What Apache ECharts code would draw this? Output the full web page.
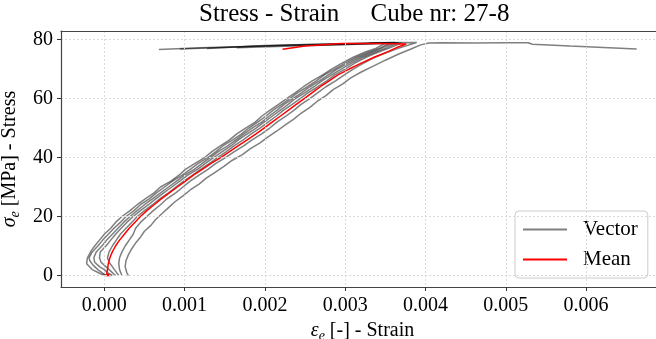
<!DOCTYPE html>
<html>
<head>
<meta charset="utf-8">
<script src="https://cdn.jsdelivr.net/npm/echarts@6/dist/echarts.min.js"></script>
<style>
  html, body { margin: 0; padding: 0; background: #fff; }
  #chart { width: 656px; height: 339px; }
</style>
</head>
<body>
<div id="chart"></div>
<script>
// Strain / stress pairs [strain (-), stress (MPa)] for each measured vector of cube 27-8
const vector1 = [[0.00005,0],[-0.00004,0.5],[-0.00015,2],[-0.00022,4],[-0.00021,6],[-0.00019,7],[-0.00016,8.5],[-0.00012,10],[-0.00006,12],[0.00000,14],[0.00008,16],[0.00014,18],[0.00022,20],[0.00032,22],[0.00041,24],[0.00051,26],[0.00062,28],[0.00070,30],[0.00083,32],[0.00093,34],[0.00101,36],[0.00113,38],[0.00125,40],[0.00134,42],[0.00145,44],[0.00156,46],[0.00165,48],[0.00176,50],[0.00188,52],[0.00196,54],[0.00206,56],[0.00217,58],[0.00227,60],[0.00238,62],[0.00248,64],[0.00259,66],[0.00272,68],[0.00283,70],[0.00296,72],[0.00310,74],[0.00325,75.8],[0.00338,77],[0.00350,78.8],[0.00300,78.5],[0.00200,77.8],[0.00120,77.2],[0.00068,76.6]];
const vector2 = [[0.00002,0],[-0.00003,1],[-0.00008,2],[-0.00014,3.5],[-0.00018,5],[-0.00019,6],[-0.00015,8],[-0.00008,10],[-0.00002,12],[0.00005,14],[0.00012,16],[0.00020,18],[0.00027,20],[0.00037,22],[0.00045,24],[0.00056,26],[0.00065,28],[0.00075,30],[0.00085,32],[0.00097,34],[0.00107,36],[0.00117,38],[0.00129,40],[0.00139,42],[0.00148,44],[0.00160,46],[0.00171,48],[0.00180,50],[0.00191,52],[0.00201,54],[0.00210,56],[0.00221,58],[0.00231,60],[0.00241,62],[0.00253,64],[0.00264,66],[0.00274,68],[0.00287,70],[0.00300,72],[0.00314,74],[0.00328,75.6],[0.00342,77],[0.00356,78.8],[0.00240,78.2],[0.00094,76.8]];
const vector3 = [[0.00010,0],[0.00004,1],[0.00000,2],[-0.00006,3],[-0.00012,4.5],[-0.00013,6],[-0.00010,8],[-0.00003,10],[0.00003,12],[0.00010,14],[0.00017,16],[0.00024,18],[0.00032,20],[0.00041,22],[0.00050,24],[0.00060,26],[0.00070,28],[0.00080,30],[0.00090,32],[0.00100,34],[0.00112,36],[0.00122,38],[0.00132,40],[0.00142,42],[0.00154,44],[0.00164,46],[0.00174,48],[0.00184,50],[0.00196,52],[0.00205,54],[0.00215,56],[0.00224,58],[0.00235,60],[0.00246,62],[0.00256,64],[0.00268,66],[0.00279,68],[0.00290,70],[0.00304,72],[0.00318,74],[0.00332,75.6],[0.00345,77],[0.00362,79],[0.00200,78],[0.00128,77]];
const vector4 = [[0.00014,0],[0.00008,1.5],[0.00002,3],[-0.00004,4.5],[-0.00006,6],[-0.00005,8],[0.00002,10],[0.00008,12],[0.00014,14],[0.00021,16],[0.00028,18],[0.00036,20],[0.00045,22],[0.00055,24],[0.00064,26],[0.00074,28],[0.00084,30],[0.00094,32],[0.00104,34],[0.00116,36],[0.00126,38],[0.00136,40],[0.00147,42],[0.00158,44],[0.00167,46],[0.00178,48],[0.00189,50],[0.00199,52],[0.00209,54],[0.00219,56],[0.00229,58],[0.00238,60],[0.00250,62],[0.00261,64],[0.00271,66],[0.00283,68],[0.00295,70],[0.00308,72],[0.00322,74],[0.00336,75.6],[0.00350,77],[0.00366,78.9],[0.00165,77.2]];
const vector5 = [[0.00018,0],[0.00014,1.5],[0.00010,3],[0.00006,4.5],[0.00004,6],[0.00006,8],[0.00010,10],[0.00015,12],[0.00020,14],[0.00027,16],[0.00034,18],[0.00041,20],[0.00050,22],[0.00060,24],[0.00069,26],[0.00080,28],[0.00089,30],[0.00099,32],[0.00110,34],[0.00120,36],[0.00131,38],[0.00141,40],[0.00152,42],[0.00162,44],[0.00173,46],[0.00183,48],[0.00194,50],[0.00204,52],[0.00214,54],[0.00223,56],[0.00234,58],[0.00244,60],[0.00254,62],[0.00266,64],[0.00277,66],[0.00287,68],[0.00300,70],[0.00312,72],[0.00326,74],[0.00340,75.6],[0.00354,77],[0.00370,78.8],[0.00260,78.0]];
const vector6 = [[0.00022,0],[0.00019,2],[0.00018,4],[0.00019,6],[0.00022,8],[0.00026,10],[0.00031,12],[0.00036,14],[0.00039,16],[0.00045,18],[0.00053,20],[0.00061,22],[0.00070,24],[0.00078,26],[0.00089,28],[0.00098,30],[0.00107,32],[0.00118,34],[0.00129,36],[0.00139,38],[0.00151,40],[0.00162,42],[0.00174,44],[0.00184,46],[0.00196,48],[0.00206,50],[0.00215,52],[0.00226,54],[0.00236,56],[0.00245,58],[0.00256,60],[0.00266,62],[0.00276,64],[0.00288,66],[0.00299,68],[0.00310,70],[0.00323,72],[0.00337,74],[0.00352,75.6],[0.00366,77],[0.00389,79],[0.00330,78.9]];
const vector7 = [[0.00030,0],[0.00028,1],[0.00026,3],[0.00027,5],[0.00030,7],[0.00034,9],[0.00039,11],[0.00045,13],[0.00050,15],[0.00058,17],[0.00064,19],[0.00072,21],[0.00080,23],[0.00088,25],[0.00098,27],[0.00107,29],[0.00118,31],[0.00127,33],[0.00138,35],[0.00149,37],[0.00159,39],[0.00172,41],[0.00182,43],[0.00194,45],[0.00204,47],[0.00215,49],[0.00225,51],[0.00236,53],[0.00245,55],[0.00256,57],[0.00265,59],[0.00276,61],[0.00285,63],[0.00297,65],[0.00307,67],[0.00320,69],[0.00335,71],[0.00350,73],[0.00366,75],[0.00382,76.8],[0.00394,78.2],[0.00404,78.8],[0.00420,78.9],[0.00460,78.8],[0.00500,78.9],[0.00528,78.9],[0.00533,78.4],[0.00580,77.8],[0.00663,76.8]];
const meanCurve = [[0.00000,0],[0.00008,0],[0.00003,0.5],[0.00004,2],[0.00005,4],[0.00007,6],[0.00010,8],[0.00014,10],[0.00019,12],[0.00025,14],[0.00031,16],[0.00038,18],[0.00045,20],[0.00053,22],[0.00062,24],[0.00071,26],[0.00081,28],[0.00091,30],[0.00101,32],[0.00111,34],[0.00122,36],[0.00133,38],[0.00145,40],[0.00156,42],[0.00167,44],[0.00178,46],[0.00189,48],[0.00199,50],[0.00209,52],[0.00219,54],[0.00229,56],[0.00239,58],[0.00249,60],[0.00259,62],[0.00269,64],[0.00280,66],[0.00291,68],[0.00305,70],[0.00320,72],[0.00336,74],[0.00354,76],[0.00366,77.5],[0.00376,78.5],[0.00340,78.7],[0.00295,78.7],[0.00250,77.8],[0.00222,76.7]];

const vectors = [vector1, vector2, vector3, vector4, vector5, vector6, vector7];
const titleText = 'Stress - Strain     Cube nr: 27-8';

const SERIF = '"Liberation Serif", "Times New Roman", serif';
const X_MIN = -0.000539;
const X_MAX = 0.00697;

const series = vectors.map(v => ({
  name: 'Vector',
  type: 'line',
  data: v,
  symbol: 'none',
  lineStyle: { width: 1.5, color: 'rgba(0,0,0,0.5)' },
  itemStyle: { color: 'rgba(0,0,0,0.5)' },
  emphasis: { disabled: true },
  z: 2
}));
series.push({
  name: 'Mean',
  type: 'line',
  data: meanCurve,
  symbol: 'none',
  lineStyle: { width: 1.5, color: '#ff0000' },
  itemStyle: { color: '#ff0000' },
  emphasis: { disabled: true },
  z: 3
});

const nameRich = {
  g: { fontFamily: SERIF, fontStyle: 'italic', fontSize: 20, lineHeight: 24, verticalAlign: 'middle', color: '#000' },
  s: { fontFamily: SERIF, fontStyle: 'italic', fontSize: 14, verticalAlign: 'bottom', color: '#000' },
  n: { fontFamily: SERIF, fontSize: 20, lineHeight: 24, verticalAlign: 'middle', color: '#000' }
};

const gridLine = { show: true, showMinLine: false, showMaxLine: false, lineStyle: { color: '#d9d9d9', type: [2, 2], width: 1 } };

const chart = echarts.init(document.getElementById('chart'), null, { renderer: 'canvas' });
chart.setOption({
  animation: false,
  backgroundColor: '#ffffff',
  title: {
    text: titleText,
    left: 199,
    top: 2,
    padding: 0,
    textStyle: { fontFamily: SERIF, fontSize: 25, fontWeight: 'normal', color: '#000' }
  },
  legend: {
    data: ['Vector', 'Mean'],
    orient: 'vertical',
    left: 515,
    top: 211,
    padding: [8, 10, 8, 8],
    itemGap: 9,
    itemWidth: 44,
    itemHeight: 2,
    icon: 'rect',
    backgroundColor: 'rgba(255,255,255,0.8)',
    borderColor: '#cccccc',
    borderWidth: 1,
    borderRadius: 4,
    textStyle: { fontFamily: SERIF, fontSize: 21, lineHeight: 20, color: '#000', padding: [0, 0, 0, 11] }
  },
  grid: {
    left: 61, top: 31, width: 603, height: 256,
    show: false,
    containLabel: false,
    outerBoundsMode: 'none'
  },
  xAxis: [{
    type: 'value',
    min: X_MIN,
    max: X_MAX,
    splitNumber: 7,
    name: '{g|ε}{s|e}{n| [-] - Strain}',
    nameLocation: 'middle',
    nameGap: 28,
    nameTextStyle: { rich: nameRich },
    axisLine: { show: true, onZero: false, lineStyle: { color: '#444', width: 1.2 } },
    axisTick: { show: true, length: 4, lineStyle: { color: '#333' } },
    axisLabel: {
      showMinLabel: false, showMaxLabel: false, margin: 9,
      fontFamily: SERIF, fontSize: 20, color: '#000',
      formatter: v => v.toFixed(3)
    },
    splitLine: gridLine,
    z: 5
  }, {
    // top frame edge
    type: 'value',
    position: 'top',
    min: X_MIN,
    max: X_MAX,
    axisLine: { show: true, onZero: false, lineStyle: { color: '#444', width: 1.2 } },
    axisTick: { show: false },
    axisLabel: { show: false },
    splitLine: { show: false },
    z: 5
  }],
  yAxis: {
    type: 'value',
    min: -3.9,
    max: 82.9,
    splitNumber: 5,
    name: '{g|σ}{s|e}{n| [MPa] - Stress}',
    nameLocation: 'middle',
    nameGap: 18,
    nameTextStyle: { rich: nameRich },
    axisLine: { show: true, onZero: false, lineStyle: { color: '#444', width: 1.2 } },
    axisTick: { show: true, length: 4, lineStyle: { color: '#333' } },
    axisLabel: {
      showMinLabel: false, showMaxLabel: false, margin: 8,
      fontFamily: SERIF, fontSize: 20, color: '#000',
      formatter: v => String(Math.round(v))
    },
    splitLine: gridLine,
    z: 5
  },
  series: series
});
</script>
</body>
</html>
